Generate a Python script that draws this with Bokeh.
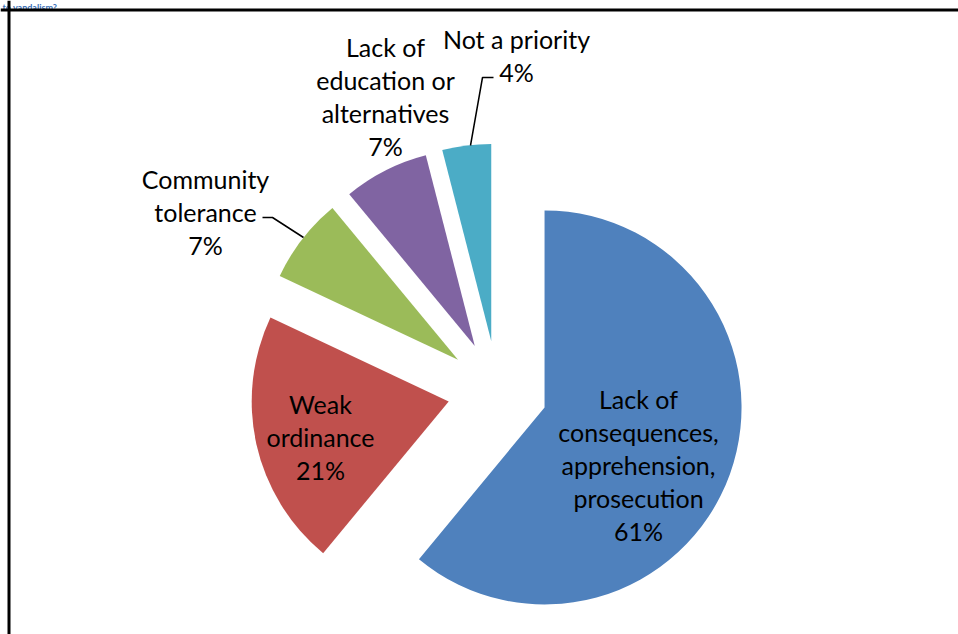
import math
from bokeh.plotting import figure
from bokeh.models import Range1d, Span, ColumnDataSource
from bokeh.embed import file_html
from bokeh.resources import INLINE
from bokeh.core.properties import value

# ---- data ----
categories = ["Lack of\nconsequences,\napprehension,\nprosecution",
              "Weak\nordinance",
              "Community\ntolerance",
              "Lack of\neducation or\nalternatives",
              "Not a priority"]
percents = [61, 21, 7, 7, 4]
colors = ["#4F81BD", "#C0504D", "#9BBB59", "#8064A2", "#4BACC6"]
title_tail = "to vandalism?"

# ---- layout (page pixels -> data units, 1:1) ----
W, H = 958, 634
def sx(x): return x
def sy(y): return H - y

cx, cy = sx(497), sy(390)
R = 197
EXPLODE = 50

p = figure(width=W, height=H, x_range=Range1d(0, W), y_range=Range1d(0, H),
           output_backend="svg", toolbar_location=None, min_border=0,
           x_axis_location=None, y_axis_location=None)
p.grid.visible = False
p.outline_line_color = None
p.background_fill_color = "white"
p.border_fill_color = "white"

total = sum(percents)
xs, ys, starts, ends = [], [], [], []
cum = 0
for v in percents:
    a0 = cum / total * 360
    a1 = (cum + v) / total * 360
    mid = math.radians((a0 + a1) / 2)
    xs.append(cx + EXPLODE * math.sin(mid))
    ys.append(cy + EXPLODE * math.cos(mid))
    starts.append(90 - a1)
    ends.append(90 - a0)
    cum += v

src = ColumnDataSource(dict(x=xs, y=ys, s=starts, e=ends, c=colors))
p.wedge(x="x", y="y", radius=R, start_angle="s", end_angle="e",
        start_angle_units="deg", end_angle_units="deg", direction="anticlock",
        fill_color="c", line_color=None, source=src)

# labels
FS = 25
label_pos = [(638, 464), (320, 436), (205, 211), (385, 96), (516, 55)]
texts = [f"{c}\n{v}%" for c, v in zip(categories, percents)]
p.text(x=[sx(a) for a, b in label_pos], y=[sy(b) for a, b in label_pos], text=texts,
       text_align="center", text_baseline="middle", text_font=value("Lato"),
       text_font_size=f"{FS}px", text_line_height=33 / (FS * 1.2), text_color="black")

# leader lines
p.line([sx(493), sx(482), sx(470)], [sy(77), sy(77), sy(145)], line_color="black", line_width=1.5)
p.line([sx(262), sx(272), sx(303)], [sy(217), sy(217), sy(237)], line_color="black", line_width=1.5)

# heading tail above the frame (kept small so it is fully visible)
p.text(x=[sx(2)], y=[sy(7)], text=[title_tail], text_align="left", text_baseline="alphabetic",
       text_font=value("Lato"), text_font_size="9px", text_font_style="bold", text_color="#3C72B8")

# frame (top + left visible)
p.add_layout(Span(location=sx(8.5), dimension="height", line_color="black", line_width=3))
p.add_layout(Span(location=sy(9.5), dimension="width", line_color="black", line_width=3))

open("out.html", "w").write(file_html(p, INLINE))
